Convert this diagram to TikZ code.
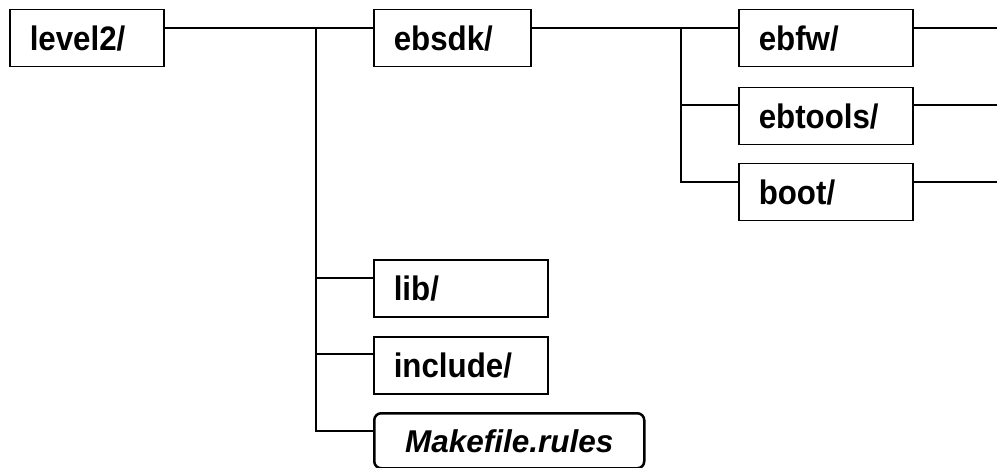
\documentclass[tikz,border=0pt]{standalone}
\usepackage{fontspec}
\setmainfont{Liberation Sans}
\newfontfamily\condfont[FakeStretch=0.92]{Liberation Sans}
\usetikzlibrary{calc}
\begin{document}
\begin{tikzpicture}[x=1pt,y=-1pt,
  dirbox/.style={draw=black, line width=1.5pt, anchor=north west, minimum height=57pt,
    inner xsep=20pt, inner ysep=0pt, align=left, font=\condfont\fontsize{34}{38}\selectfont\bfseries},
  filebox/.style={draw=black, line width=2.5pt, rounded corners=7pt, anchor=north west, minimum height=55pt,
    inner xsep=0pt, inner ysep=0pt, align=center, font=\fontsize{31.5}{36}\selectfont\bfseries\itshape},
  conn/.style={draw=black, line width=1.5pt}]
\useasboundingbox (0,0) rectangle (997,468);
% boxes
\node[dirbox, text width=114pt] (level2) at (9,9) {level2/};
\node[dirbox, text width=117pt] (ebsdk) at (373,9) {ebsdk/};
\node[dirbox, text width=134pt] (ebfw) at (738,9) {ebfw/};
\node[dirbox, text width=134pt] (ebtools) at (738,87) {ebtools/};
\node[dirbox, text width=134pt] (boot) at (738,163) {boot/};
\node[dirbox, text width=134pt] (lib) at (373,259) {lib/};
\node[dirbox, text width=134pt] (include) at (373,336) {include/};
\node[filebox, text width=270pt] (make) at (373,412) {Makefile.rules};
% junctions
\coordinate (j1top) at (316,28);
\coordinate (j1bot) at (316,431);
\coordinate (j2top) at (681,28);
\coordinate (j2bot) at (681,182);
\coordinate (r1) at (997,28);
\coordinate (r2) at (997,105);
\coordinate (r3) at (997,182);
% connectors
\draw[conn] (level2.east |- j1top) -- (ebsdk.west |- j1top);
\draw[conn] (j1top) -- (j1bot) -- (make.west |- j1bot);
\draw[conn] (j1top |- {$(lib.north west)+(0,19)$}) -- ($(lib.north west)+(0,19)$);
\draw[conn] (j1top |- {$(include.north west)+(0,18)$}) -- ($(include.north west)+(0,18)$);
\draw[conn] (ebsdk.east |- j2top) -- (ebfw.west |- j2top);
\draw[conn] (j2top) -- (j2bot) -- (boot.west |- j2bot);
\draw[conn] (j2top |- r2) -- (ebtools.west |- r2);
\draw[conn] (ebfw.east |- r1) -- (r1);
\draw[conn] (ebtools.east |- r2) -- (r2);
\draw[conn] (boot.east |- r3) -- (r3);
\end{tikzpicture}
\end{document}
